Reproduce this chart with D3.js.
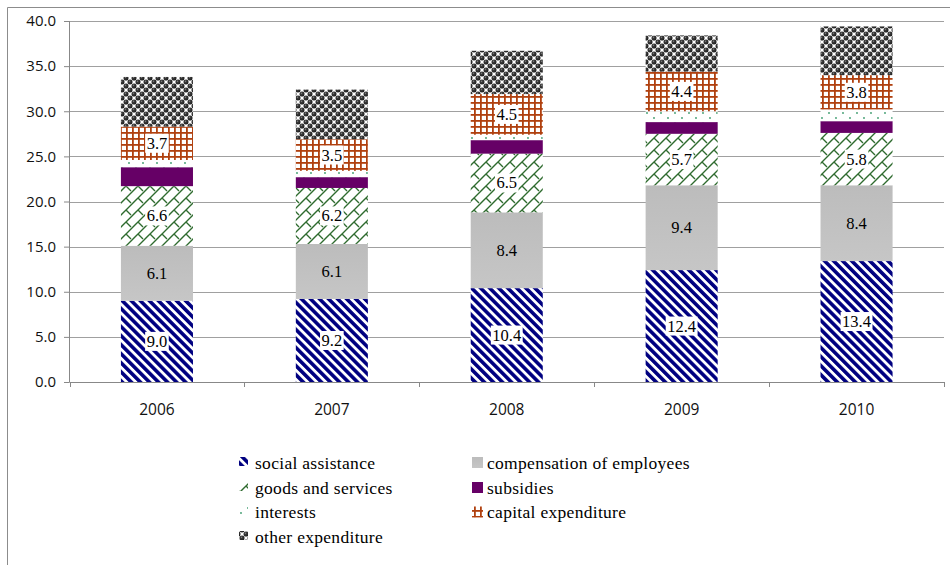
<!DOCTYPE html>
<html>
<head>
<meta charset="utf-8">
<script src="https://cdn.jsdelivr.net/npm/d3@7/dist/d3.min.js"></script>
<style>
  html, body { margin: 0; padding: 0; background: #fff; }
  svg { display: block; }
  .serif { font-family: "Liberation Serif", "Times New Roman", serif; }
  .sans { font-family: "Open Sans", Lato, sans-serif; }
</style>
</head>
<body>
<svg id="chart" width="950" height="565"></svg>
<script>
// Public expenditure breakdown, 2006-2010 (stacked)
const years = ["2006", "2007", "2008", "2009", "2010"];
const seriesNames = [
  "social assistance", "compensation of employees", "goods and services",
  "subsidies", "interests", "capital expenditure", "other expenditure"
];
const socialAssistance = [9.0, 9.2, 10.4, 12.4, 13.4];
const compensation     = [6.1, 6.1, 8.4, 9.4, 8.4];
const goodsServices    = [6.6, 6.2, 6.5, 5.7, 5.8];
const subsidies        = [2.1, 1.2, 1.5, 1.3, 1.3];
const interests        = [0.8, 0.7, 0.6, 1.2, 1.3];
const capitalExp       = [3.7, 3.5, 4.5, 4.4, 3.8];
const otherExp         = [5.5, 5.5, 4.8, 4.0, 5.4];
const yTicks = [0, 5, 10, 15, 20, 25, 30, 35, 40];

const seriesValues = [socialAssistance, compensation, goodsServices,
                      subsidies, interests, capitalExp, otherExp];
const labelled = [true, true, true, false, false, true, false];
const boxed    = [true, false, true, false, false, true, false];

const rows = years.map((y, i) => {
  const r = { year: y };
  seriesNames.forEach((n, k) => r[n] = seriesValues[k][i]);
  return r;
});

const svg = d3.select("#chart");
const defs = svg.append("defs");

// ---- fill patterns ----
// diagonal navy stripes
const pStripe = defs.append("pattern").attr("id", "p-social")
  .attr("patternUnits", "userSpaceOnUse").attr("width", 6.4).attr("height", 6.4)
  .attr("patternTransform", "rotate(-45)");
pStripe.append("rect").attr("width", 6.4).attr("height", 6.4).attr("fill", "#fff");
pStripe.append("rect").attr("width", 3.6).attr("height", 6.4).attr("fill", "#000080");

// grey gradient
const gGrey = defs.append("linearGradient").attr("id", "g-comp")
  .attr("x1", 0).attr("y1", 0).attr("x2", 0).attr("y2", 1);
gGrey.append("stop").attr("offset", "0%").attr("stop-color", "#bcbcbc");
gGrey.append("stop").attr("offset", "100%").attr("stop-color", "#c6c6c6");

// green shingle
const pShingle = defs.append("pattern").attr("id", "p-goods")
  .attr("patternUnits", "userSpaceOnUse").attr("width", 12).attr("height", 12);
pShingle.append("rect").attr("width", 12).attr("height", 12).attr("fill", "#fff");
pShingle.append("path").attr("d", "M0,12 L12,0 M6,6 L11,11 M-1,1 L1,-1 M11,13 L13,11")
  .attr("stroke", "#2e6b2e").attr("stroke-width", 1.4).attr("fill", "none");

// sparse green dots
const pDots = defs.append("pattern").attr("id", "p-interests")
  .attr("patternUnits", "userSpaceOnUse").attr("width", 14).attr("height", 10);
pDots.append("rect").attr("width", 14).attr("height", 10).attr("fill", "#fff");
pDots.append("circle").attr("cx", 3).attr("cy", 3).attr("r", 0.9).attr("fill", "#3a9a6c");
pDots.append("circle").attr("cx", 10).attr("cy", 8).attr("r", 0.9).attr("fill", "#3a9a6c");

// orange grid
const pGrid = defs.append("pattern").attr("id", "p-capital")
  .attr("patternUnits", "userSpaceOnUse").attr("width", 6).attr("height", 6);
pGrid.append("rect").attr("width", 6).attr("height", 6).attr("fill", "#fff");
pGrid.append("rect").attr("width", 1.8).attr("height", 6).attr("fill", "#b0400f");
pGrid.append("rect").attr("width", 6).attr("height", 1.8).attr("fill", "#b0400f");

// dark spheres with highlights on white
const gSphere = defs.append("radialGradient").attr("id", "g-sphere")
  .attr("cx", "40%").attr("cy", "35%").attr("r", "60%");
gSphere.append("stop").attr("offset", "0%").attr("stop-color", "#8a8a8a");
gSphere.append("stop").attr("offset", "35%").attr("stop-color", "#3a3a3a");
gSphere.append("stop").attr("offset", "100%").attr("stop-color", "#1e1e1e");
const pSphere = defs.append("pattern").attr("id", "p-other")
  .attr("patternUnits", "userSpaceOnUse").attr("width", 8).attr("height", 8);
pSphere.append("rect").attr("width", 8).attr("height", 8).attr("fill", "#fff");
[[2, 2], [6, 6], [6, -2], [-2, 6], [10, 6], [6, 10], [2, 10], [10, 2], [-2, -2], [10, 10], [-2, 10], [10, -2]]
  .forEach(([cx, cy]) => pSphere.append("circle").attr("cx", cx).attr("cy", cy).attr("r", 2.5)
    .attr("fill", "url(#g-sphere)"));

const fills = ["url(#p-social)", "url(#g-comp)", "url(#p-goods)", "#660066",
               "url(#p-interests)", "url(#p-capital)", "url(#p-other)"];

// ---- frame ----
svg.append("path").attr("d", "M7.5,570 V7.5 H960")
  .attr("fill", "none").attr("stroke", "#8c8c8c").attr("stroke-width", 1);

// ---- scales ----
const plotLeft = 69.5, plotRight = 944, plotTop = 21, plotBottom = 382;
const x = d3.scaleBand().domain(years).range([plotLeft, plotRight])
  .paddingInner(0.588).paddingOuter(0.294);
const y = d3.scaleLinear().domain([0, 40]).range([plotBottom, plotTop]);

// ---- gridlines ----
svg.append("g").selectAll("line").data(yTicks.filter(t => t > 0)).join("line")
  .attr("x1", plotLeft).attr("x2", plotRight)
  .attr("y1", d => Math.round(y(d)) + 0.5).attr("y2", d => Math.round(y(d)) + 0.5)
  .attr("stroke", "#a0a0a0").attr("stroke-width", 1);

// ---- bars ----
const stack = d3.stack().keys(seriesNames);
const stacked = stack(rows);

const layers = svg.append("g").selectAll("g").data(stacked).join("g")
  .attr("fill", (d, i) => fills[i]);
layers.selectAll("rect").data(d => d).join("rect")
  .attr("x", d => x(d.data.year))
  .attr("width", x.bandwidth())
  .attr("y", d => y(d[1]))
  .attr("height", d => y(d[0]) - y(d[1]));

// ---- value labels ----
stacked.forEach((layer, k) => {
  if (!labelled[k]) return;
  const g = svg.append("g");
  layer.forEach(d => {
    const cx = x(d.data.year) + x.bandwidth() / 2;
    const cy = (y(d[0]) + y(d[1])) / 2;
    const txt = d3.format(".1f")(d[1] - d[0]);
    const t = g.append("text")
      .attr("class", "serif")
      .attr("x", cx).attr("y", cy + 5.5)
      .attr("text-anchor", "middle")
      .style("font-size", "16.5px")
      .attr("fill", "#000").text(txt);
    if (boxed[k]) {
      const bb = t.node().getBBox();
      g.insert("rect", () => t.node())
        .attr("x", bb.x - 1.5).attr("y", cy - 9.5)
        .attr("width", bb.width + 3).attr("height", 19)
        .attr("fill", "#fff");
    }
  });
});

// ---- y axis ----
const yAxis = svg.append("g").attr("transform", `translate(${plotLeft - 0.5},0)`)
  .call(d3.axisLeft(y).tickValues(yTicks).tickFormat(d3.format(".1f")).tickSize(5).tickPadding(8));
yAxis.select(".domain").attr("stroke", "#888").attr("d", `M0.5,${plotTop}V${plotBottom + 0.5}`);
yAxis.selectAll(".tick line").attr("stroke", "#888");
yAxis.selectAll(".tick text").attr("class", "sans").attr("font-family", null)
  .style("font-size", "15px").attr("fill", "#111");

// ---- x axis ----
const xAxis = svg.append("g").attr("transform", `translate(0,${plotBottom})`)
  .call(d3.axisBottom(x).tickSize(0).tickPadding(22));
xAxis.attr("font-family", null);
yAxis.attr("font-family", null);
xAxis.select(".domain").attr("stroke", "#888")
  .attr("d", `M${plotLeft},0.5H${plotRight}`);
xAxis.selectAll(".tick text").attr("class", "sans")
  .style("font-size", "15.5px").attr("fill", "#111");
const bounds = d3.range(years.length + 1).map(i => x.range()[0] + i * x.step());
xAxis.append("g").selectAll("line").data(bounds).join("line")
  .attr("x1", d => Math.round(d) + 0.5).attr("x2", d => Math.round(d) + 0.5)
  .attr("y1", 0).attr("y2", 5).attr("stroke", "#888");

// ---- legend ----
const legendItems = seriesNames.map((n, k) => ({ name: n, fill: fills[k] }));
const colX = [239, 472];
const rowY = [463, 488, 512.5, 537];
const legend = svg.append("g");
legendItems.forEach((d, k) => {
  const col = k % 2, row = Math.floor(k / 2);
  const lx = colX[col], ly = rowY[row];
  legend.append("rect")
    .attr("x", lx).attr("y", ly - 6).attr("width", col === 0 ? 9 : 11).attr("height", col === 0 ? 9 : 11)
    .attr("fill", d.fill);
  legend.append("text")
    .attr("class", "serif")
    .attr("x", lx + (col === 0 ? 16 : 15)).attr("y", ly + 5.5)
    .style("font-size", "17.5px")
    .style("letter-spacing", "0.3px")
    .attr("fill", "#000").text(d.name);
});
</script>
</body>
</html>
